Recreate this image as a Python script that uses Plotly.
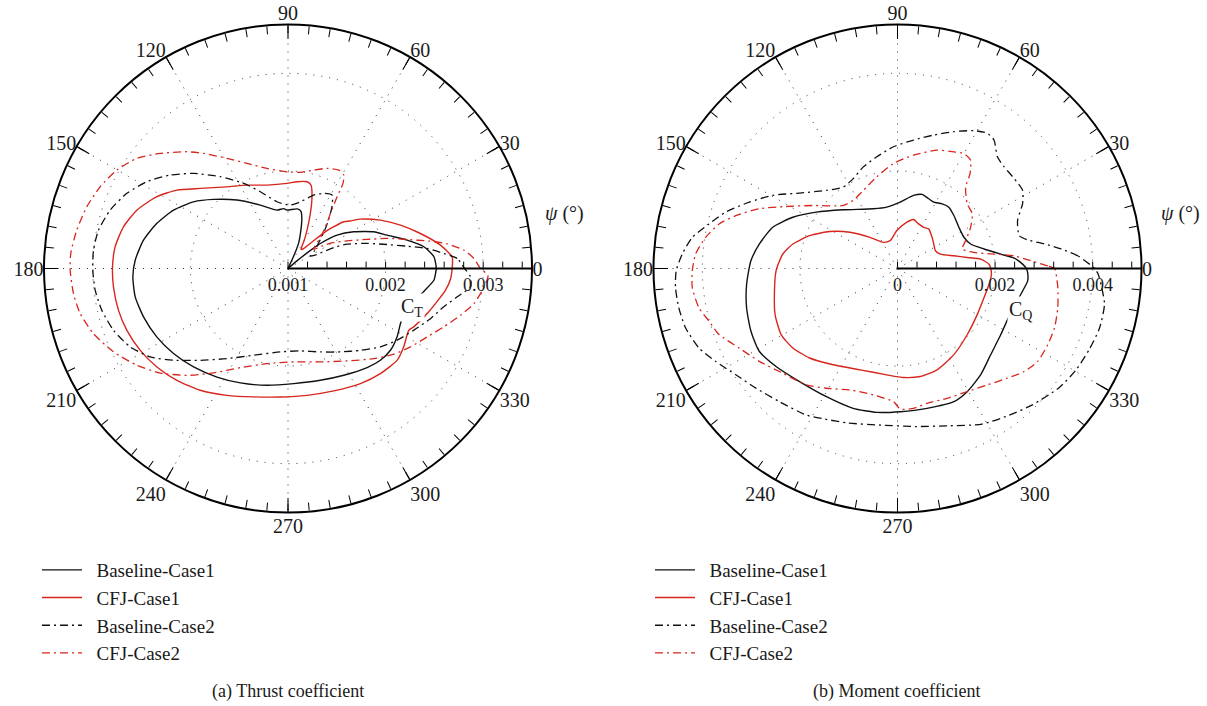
import numpy as np
import plotly.graph_objects as go

# ---------------- data (values in units of 1e-3) ----------------
# (a) Thrust coefficient C_T vs azimuth psi (deg)
ct_base1_psi = [0, 4.6, 9.1, 13.4, 18.6, 23.2, 29.2, 34.2, 37.7, 38.8, 40.5, 44, 58, 65.3, 67.4, 71.6, 74.5,
                77.2, 81, 91, 94, 100.7, 113.6, 126.7, 137.1, 144.8, 153, 161, 168.9, 176.9, 183.1, 190.5,
                198.5, 207.5, 216.6, 226.2, 236.8, 247.4, 259.8, 272.8, 286.1, 297.6, 308.6, 315.2, 321.4,
                327.9, 335, 341, 347, 351, 355.4, 358.7]
ct_base1 = [2.52, 2.50, 2.41, 2.255, 2.07, 1.956, 1.771, 1.608, 1.419, 1.30, 1.12, 1.00, 1.00, 1.14, 1.285,
            1.42, 1.53, 1.60, 1.618, 1.60, 1.615, 1.609, 1.709, 1.875, 2.04, 2.185, 2.317, 2.421, 2.509,
            2.568, 2.592, 2.592, 2.561, 2.516, 2.461, 2.398, 2.329, 2.27, 2.216, 2.181, 2.192, 2.234, 2.299,
            2.334, 2.343, 2.319, 2.28, 2.30, 2.36, 2.42, 2.50, 2.515]

ct_cfj1_psi = [0, 4, 8.7, 14.8, 21.1, 27.6, 34.3, 37.5, 40, 42.7, 44.5, 47.3, 51.9, 55.6, 60, 63.6, 67.9,
               71.5, 74.6, 77.6, 84.1, 90.7, 104.1, 116.2, 126.8, 137.6, 144.8, 151.3, 158.9, 165.8, 172.8,
               179.5, 186, 193.8, 201, 209, 216.9, 225.2, 234.2, 244.3, 255, 266.6, 278.5, 290.5, 302.2,
               311.3, 320, 325.9, 332.9, 335.1, 342.9, 352.2, 356.5]
ct_cfj1 = [2.682, 2.686, 2.58, 2.404, 2.235, 2.069, 1.898, 1.80, 1.745, 1.62, 1.54, 1.39, 1.26, 1.236, 1.33,
           1.439, 1.609, 1.775, 1.887, 1.91, 1.894, 1.872, 1.881, 1.952, 2.045, 2.217, 2.393, 2.532, 2.66,
           2.739, 2.785, 2.798, 2.798, 2.789, 2.768, 2.731, 2.68, 2.615, 2.538, 2.442, 2.362, 2.319, 2.314,
           2.339, 2.393, 2.434, 2.461, 2.432, 2.39, 2.42, 2.509, 2.629, 2.67]

ct_base2_psi = [0, 3.4, 5.5, 8.2, 10.6, 13.6, 17.6, 22.4, 24.5, 26.5, 28.9, 34, 39.9, 45, 50.3, 54.8, 59,
                64.6, 70.7, 79.5, 87.9, 99.4, 109.8, 117.5, 126.4, 134.8, 141.6, 148.4, 155, 161.8, 168.6,
                174.6, 180.5, 186.4, 192.6, 199.5, 206.4, 212.7, 218.7, 226.3, 235.9, 248.4, 264.7, 278.5,
                291.2, 302.1, 311.5, 319.7, 326.7, 333.9, 340.6, 346.2, 350.5, 354.3, 357.5]
ct_base2 = [2.81, 2.736, 2.604, 2.44, 2.242, 2.045, 1.85, 1.655, 1.52, 1.30, 1.262, 1.33, 1.41, 1.517,
            1.653, 1.783, 1.877, 1.852, 1.797, 1.695, 1.65, 1.693, 1.836, 1.983, 2.169, 2.373, 2.541, 2.697,
            2.822, 2.918, 2.981, 3.002, 3.0, 2.988, 2.955, 2.897, 2.806, 2.678, 2.503, 2.301, 2.115, 1.956,
            1.858, 1.854, 1.917, 2.009, 2.119, 2.242, 2.338, 2.436, 2.547, 2.644, 2.758, 2.88, 2.87]

ct_cfj2_psi = [0, 3.1, 6, 8.8, 10.9, 13.7, 16.9, 20.2, 25.1, 30, 33.5, 36.5, 40, 44, 49.5, 52.4, 55.6, 57.1,
               59.2, 62.7, 68.7, 75.4, 82.7, 90.6, 101.9, 111.3, 119, 126.3, 130.9, 138, 143.9, 150.1,
               156.5, 162.9, 169.7, 176, 180.4, 186.7, 192.2, 198.5, 205.5, 212.6, 219.3, 226.6, 234.5,
               244.3, 257.5, 273.5, 289.1, 302.6, 313.6, 321, 327.4, 333.8, 339.5, 344.8, 349.3, 354, 358]
ct_cfj2 = [2.972, 2.907, 2.811, 2.65, 2.48, 2.256, 2.061, 1.863, 1.668, 1.53, 1.42, 1.33, 1.36, 1.47, 1.616,
           1.712, 1.89, 2.038, 2.115, 2.135, 2.101, 2.042, 1.993, 1.991, 2.048, 2.156, 2.29, 2.463, 2.583,
           2.762, 2.916, 3.023, 3.099, 3.156, 3.2, 3.231, 3.232, 3.213, 3.179, 3.102, 2.982, 2.839, 2.691,
           2.507, 2.314, 2.127, 1.998, 1.959, 2.013, 2.124, 2.275, 2.395, 2.49, 2.589, 2.705, 2.831, 2.938,
           3.01, 3.05]

# (b) Moment coefficient C_Q vs azimuth psi (deg)
cq_base1_psi = [0, 2, 5.1, 7.9, 12.7, 18.5, 25.2, 33.9, 43.2, 50.1, 55.4, 61.4, 65.9, 71.7, 77.6, 87.7, 99.9,
                112, 132.8, 145.2, 153.9, 161.7, 170, 177, 186, 194.6, 203.2, 210.9, 218.9, 229.1, 241, 252.4,
                261.8, 271.1, 281.9, 292.9, 299.5, 308, 317.2, 327.4, 336.9, 349.8, 354.6, 358.2]
cq_base1 = [2.64, 2.565, 2.401, 2.137, 1.817, 1.58, 1.504, 1.515, 1.585, 1.639, 1.611, 1.55, 1.566, 1.60,
            1.534, 1.362, 1.277, 1.32, 1.639, 2.025, 2.388, 2.693, 2.876, 3.008, 3.109, 3.196, 3.267, 3.302,
            3.197, 3.065, 3.003, 3.006, 2.979, 2.935, 2.929, 2.963, 2.899, 2.766, 2.602, 2.513, 2.488, 2.605,
            2.679, 2.668]

cq_cfj1_psi = [0, 2.7, 6.4, 9, 12.7, 18.6, 25.1, 34, 42.1, 51.8, 57.6, 64.7, 71.8, 78.5, 91, 104.8, 118.3,
               131.4, 142.7, 151.4, 159.5, 166.8, 172.8, 181.1, 191.8, 200.6, 209.6, 217.2, 225.5, 236.2,
               249.7, 264.2, 273.2, 281.9, 291.3, 303.2, 316.6, 330.1, 341.4, 350.2, 356.5]
cq_cfj1 = [1.911, 1.878, 1.715, 1.447, 1.184, 0.928, 0.858, 0.896, 0.954, 1.033, 1.001, 1.011, 1.056, 0.968,
           0.777, 0.59, 0.609, 0.852, 1.226, 1.581, 1.922, 2.202, 2.369, 2.489, 2.577, 2.68, 2.742, 2.693,
           2.571, 2.373, 2.214, 2.19, 2.237, 2.262, 2.228, 2.11, 1.969, 1.887, 1.871, 1.904, 1.928]

cq_base2_psi = [0, 4, 6.8, 9.5, 12.4, 15.1, 21.8, 27.4, 32, 37.6, 43.6, 48.2, 53.1, 56.4, 61, 67.6, 74.8,
                82.9, 91.9, 100.5, 108.6, 116.2, 123.7, 132.3, 142.4, 149.6, 155.9, 161.8, 166.7, 171.4,
                176.2, 180.6, 184.9, 190.2, 195.6, 201.8, 207.1, 213.3, 220.2, 228.4, 238.1, 244, 252.2,
                264.1, 276.3, 288, 298.5, 307.2, 314.7, 323.6, 330.3, 337.2, 343.5, 350.3, 358.4]
cq_base2 = [4.04, 3.707, 3.378, 3.052, 2.73, 2.584, 2.65, 2.887, 3.023, 3.019, 3.019, 3.071, 3.293, 3.326,
            3.23, 3.033, 2.834, 2.653, 2.496, 2.328, 2.197, 2.053, 2.007, 2.165, 2.533, 2.964, 3.329, 3.704,
            3.969, 4.254, 4.422, 4.536, 4.566, 4.553, 4.511, 4.383, 4.183, 3.965, 3.799, 3.647, 3.538, 3.43,
            3.326, 3.227, 3.258, 3.39, 3.629, 3.777, 3.931, 4.114, 4.207, 4.266, 4.316, 4.303, 4.113]

cq_cfj2_psi = [0, 1, 3.3, 6.2, 8.5, 11.9, 16.7, 22.2, 29.4, 36.2, 42.9, 50.1, 52.6, 56, 60, 64.2, 71.5, 81.9,
               92.2, 102.8, 113.6, 123, 130.8, 143.3, 150.9, 156.6, 161.9, 166, 170.8, 175.9, 180.7, 185.3,
               191.2, 195.6, 200.3, 206.7, 213.9, 222.4, 231.9, 239.3, 248.6, 259.2, 268.3, 271.1, 276.6,
               282.3, 290.9, 299.5, 307.7, 315.1, 320.9, 326.5, 333.1, 339.3, 346.2, 353.2, 357.9]
cq_cfj2 = [3.22, 3.08, 2.74, 2.406, 2.001, 1.601, 1.385, 1.507, 1.72, 1.898, 1.95, 2.176, 2.447, 2.678,
           2.722, 2.656, 2.558, 2.346, 2.153, 1.924, 1.748, 1.664, 1.706, 2.161, 2.612, 3.085, 3.486, 3.769,
           3.983, 4.148, 4.206, 4.224, 4.148, 4.01, 3.899, 3.63, 3.412, 3.182, 3.03, 2.854, 2.673, 2.638,
           2.73, 2.88, 2.885, 2.828, 2.848, 2.899, 3.013, 3.183, 3.347, 3.446, 3.452, 3.439, 3.382, 3.309,
           3.253]

series_names = ["Baseline-Case1", "CFJ-Case1", "Baseline-Case2", "CFJ-Case2"]

# axes
ct_range = [0.001, 0.0035]
ct_grid = [0.002, 0.003]
ct_minor = [0.001 + 0.0002 * i for i in range(13)]
ct_labels = {0.001: "0.001", 0.002: "0.002", 0.003: "0.003"}

cq_range = [0.0, 0.005]
cq_grid = [0.002, 0.004]
cq_minor = [0.0004 * i for i in range(13)]
cq_labels = {0.0: "0", 0.002: "0.002", 0.004: "0.004"}

psi_major = list(range(0, 360, 30))
psi_minor = list(range(0, 360, 5))

# ---------------- styling ----------------
RED = "#d7261e"
BLACK = "#111111"
SERIF = "Liberation Serif"
styles = [
    dict(color=BLACK, width=1.4, dash="solid"),
    dict(color=RED, width=1.4, dash="solid"),
    dict(color=BLACK, width=1.3, dash="8px,4px,2px,4px"),
    dict(color=RED, width=1.3, dash="8px,4px,2px,4px"),
]

W, H = 1207, 706
R = 244
def dom(cx, cy):
    return dict(x=[(cx - R) / W, (cx + R) / W], y=[1 - (cy + R) / H, 1 - (cy - R) / H])

dom_l = dom(288, 268.5)
dom_r = dom(897.5, 268.5)

fig = go.Figure()
PAD = "\u00a0\u00a0"

def add_panel(grid_sp, top_sp, legend_id, curves):
    # invisible trace keeps grid layer alive
    fig.add_trace(go.Scatterpolar(r=[None], theta=[0], mode="markers", subplot=grid_sp,
                                  showlegend=False, hoverinfo="skip"))
    for (psi, vals), name, st in zip(curves, series_names, styles):
        r = list(np.array(vals) * 1e-3) + [vals[0] * 1e-3]
        th = list(psi) + [360]
        fig.add_trace(go.Scatterpolar(
            r=r, theta=th, mode="lines", name=PAD + name, subplot=top_sp, legend=legend_id,
            line=dict(color=st["color"], width=st["width"], dash=st["dash"], shape="spline", smoothing=0.6),
        ))

add_panel("polar", "polar2", "legend",
          [(ct_base1_psi, ct_base1), (ct_cfj1_psi, ct_cfj1), (ct_base2_psi, ct_base2), (ct_cfj2_psi, ct_cfj2)])
add_panel("polar3", "polar4", "legend2",
          [(cq_base1_psi, cq_base1), (cq_cfj1_psi, cq_cfj1), (cq_base2_psi, cq_base2), (cq_cfj2_psi, cq_cfj2)])

GRIDC = "#333333"
GRIDDASH = "1px,7px"

def grid_layer(d, rrange, gvals):
    return dict(
        domain=d, bgcolor="white",
        radialaxis=dict(range=rrange, tickmode="array", tickvals=gvals, showticklabels=False, ticks="",
                        showline=False, showgrid=True, gridcolor=GRIDC, griddash=GRIDDASH, gridwidth=1.2,
                        angle=0),
        angularaxis=dict(rotation=0, direction="counterclockwise", tickmode="array", tickvals=psi_major,
                         ticktext=[str(v) for v in psi_major], ticks="inside", ticklen=14, tickwidth=1.4,
                         tickcolor="black", showline=False, showgrid=True, gridcolor=GRIDC,
                         griddash=GRIDDASH, gridwidth=1.2,
                         tickfont=dict(family=SERIF, size=20, color="#1a1a1a")),
    )

def tick_layer(d, rrange, minor, labels):
    return dict(
        domain=d, bgcolor="rgba(0,0,0,0)",
        radialaxis=dict(range=rrange, tickmode="array", tickvals=minor,
                        ticktext=[labels.get(round(v, 6), "") for v in minor],
                        ticks="inside", ticklen=6, tickwidth=1.3, tickcolor="black",
                        showline=True, linecolor="black", linewidth=1.8, showgrid=False, angle=0,
                        side="clockwise", tickfont=dict(family=SERIF, size=18, color="#1a1a1a")),
        angularaxis=dict(rotation=0, direction="counterclockwise", tickmode="array", tickvals=psi_minor,
                         ticks="inside", ticklen=8, tickwidth=1.2, tickcolor="black", showticklabels=False,
                         showline=True, linecolor="black", linewidth=2, showgrid=False),
    )

legend_common = dict(font=dict(family=SERIF, size=19, color="#1a1a1a"), bgcolor="rgba(0,0,0,0)",
                     xanchor="left", yanchor="top", tracegroupgap=0, itemwidth=40)

fig.update_layout(
    width=W, height=H, margin=dict(l=0, r=0, t=0, b=0),
    paper_bgcolor="white", plot_bgcolor="white",
    polar=grid_layer(dom_l, ct_range, ct_grid),
    polar2=tick_layer(dom_l, ct_range, ct_minor, ct_labels),
    polar3=grid_layer(dom_r, cq_range, cq_grid),
    polar4=tick_layer(dom_r, cq_range, cq_minor, cq_labels),
    legend=dict(x=37 / W, y=1 - 551 / H, **legend_common),
    legend2=dict(x=650 / W, y=1 - 551 / H, **legend_common),
    showlegend=True,
)

def ann(x, y, text, size=18, bg=None):
    a = dict(x=x / W, y=1 - y / H, xref="paper", yref="paper", text=text, showarrow=False,
             font=dict(family=SERIF, size=size, color="#1a1a1a"), xanchor="center", yanchor="middle")
    if bg:
        a["bgcolor"] = bg
    fig.add_annotation(**a)

ann(412, 307, "C<sub>T</sub>", 20, "white")
ann(1020, 310, "C<sub>Q</sub>", 20, "white")
ann(564, 213, "<i>ψ</i> (°)", 20)
ann(1180, 213, "<i>ψ</i> (°)", 20)
ann(288, 691, "(a) Thrust coefficient", 18)
ann(897, 691, "(b) Moment coefficient", 18)

fig.write_html("out.html")
